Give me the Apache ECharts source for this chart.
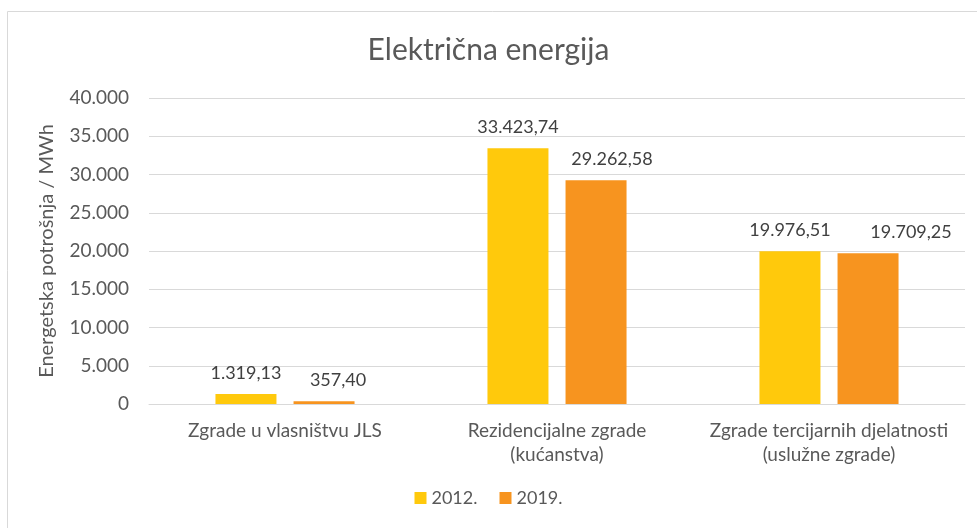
<!DOCTYPE html>
<html>
<head>
<meta charset="utf-8">
<script src="https://cdn.jsdelivr.net/npm/echarts@6/dist/echarts.min.js"></script>
<style>
  html, body { margin: 0; padding: 0; background: #fff; }
  #chart { width: 977px; height: 528px; }
</style>
</head>
<body>
<div id="chart"></div>
<script>
  const categories = ['Zgrade u vlasništvu JLS', 'Rezidencijalne zgrade\n(kućanstva)', 'Zgrade tercijarnih djelatnosti\n(uslužne zgrade)']
  const values2012 = [1319.13, 33423.74, 19976.51]
  const values2019 = [357.40, 29262.58, 19709.25]
  const seriesNames = ['2012.', '2019.']

  const FONT = 'Lato'

  // hrvatski format: 33.423,74
  function fmt(v, dec) {
    let parts = v.toFixed(dec).split('.')
    let int = parts[0].replace(/\B(?=(\d{3})+(?!\d))/g, '.')
    return parts.length > 1 ? int + ',' + parts[1] : int
  }

  let myChart = echarts.init(document.getElementById('chart'))

  let barLabel = {
    show: true,
    position: 'top',
    distance: 12,
    color: '#404040',
    fontSize: 18,
    fontFamily: FONT,
    formatter: p => fmt(p.value, 2)
  }

  // labele 2019 pomaknute udesno kao u Excelu (da se ne preklapaju)
  let shift2019 = [14, 16, 43]

  myChart.setOption({
    animation: false,
    textStyle: { fontFamily: FONT },
    graphic: [{
      type: 'rect',
      shape: { x: 7.5, y: 11.5, width: 990, height: 540 },
      style: { fill: 'none', stroke: '#d9d9d9', lineWidth: 1 },
      silent: true
    }],
    title: {
      text: 'Električna energija',
      left: 'center',
      top: 30,
      textStyle: { fontSize: 30, fontWeight: 'normal', color: '#595959', fontFamily: FONT }
    },
    legend: {
      bottom: 16,
      left: 'center',
      icon: 'rect',
      itemWidth: 12,
      itemHeight: 12,
      itemGap: 22,
      textStyle: { fontSize: 18, color: '#595959', fontFamily: FONT },
      data: seriesNames
    },
    grid: {
      left: 149,
      right: 12,
      top: 98,
      bottom: 124
    },
    xAxis: {
      type: 'category',
      data: categories,
      axisLine: { lineStyle: { color: '#d9d9d9' } },
      axisTick: { show: false },
      axisLabel: {
        interval: 0,
        color: '#595959',
        fontSize: 19,
        lineHeight: 24,
        margin: 15,
        fontFamily: FONT
      }
    },
    yAxis: {
      type: 'value',
      min: 0,
      max: 40000,
      interval: 5000,
      name: 'Energetska potrošnja / MWh',
      nameLocation: 'middle',
      nameGap: 92,
      nameRotate: 90,
      nameTextStyle: { fontSize: 20, color: '#595959', fontFamily: FONT },
      axisLine: { show: false },
      axisTick: { show: false },
      axisLabel: {
        color: '#595959',
        fontSize: 19,
        margin: 20,
        fontFamily: FONT,
        formatter: v => fmt(v, 0)
      },
      splitLine: { lineStyle: { color: '#d9d9d9' } }
    },
    series: [{
      name: seriesNames[0],
      type: 'bar',
      barWidth: 61,
      barGap: '28%',
      itemStyle: { color: '#FFC90C' },
      label: barLabel,
      data: values2012
    }, {
      name: seriesNames[1],
      type: 'bar',
      barWidth: 61,
      barGap: '28%',
      itemStyle: { color: '#F7941F' },
      label: barLabel,
      data: values2019.map((v, i) => ({ value: v, label: { offset: [shift2019[i], 0] } }))
    }]
  })
</script>
</body>
</html>
